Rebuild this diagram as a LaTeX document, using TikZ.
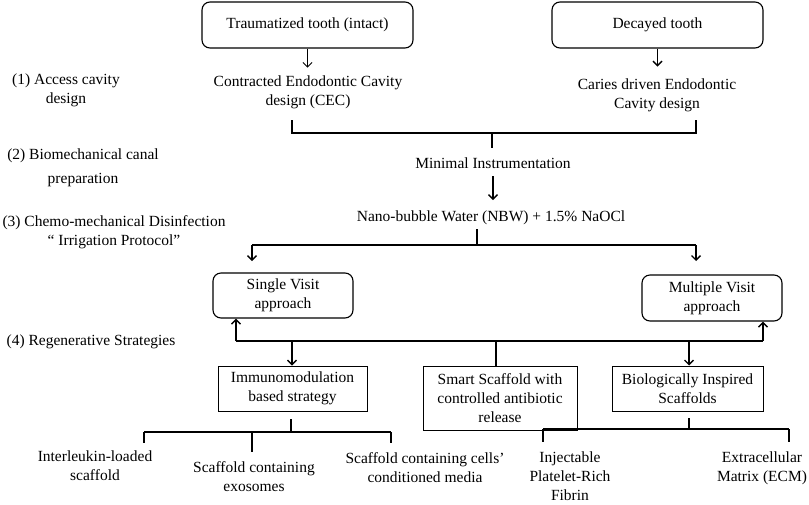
\documentclass[tikz,border=0pt]{standalone}
\usepackage{fontspec}
\setmainfont{Liberation Serif}
\usetikzlibrary{arrows.meta}
\begin{document}
\begin{tikzpicture}[x=1pt,y=-1pt,
  every node/.style={font=\fontsize{15.5}{19}\selectfont, align=center, inner sep=0pt},
  rbox/.style={draw, line width=1.1pt, rounded corners=8pt},
  sbox/.style={draw, line width=1pt},
  txt/.style={},
  conn/.style={line width=1.6pt},
  arr/.style={conn, -{Straight Barb[length=4.5pt,width=9pt,line width=1.4pt]}},
  thinarr/.style={line width=0.8pt, -{Straight Barb[length=4.5pt,width=9pt,line width=0.8pt]}}
]
\useasboundingbox (0,0) rectangle (809,504);
% boxes
\node[rbox, minimum width=211pt, minimum height=46pt] (trauma) at (307.5,25) {Traumatized tooth (intact)};
\node[rbox, minimum width=211pt, minimum height=46pt] (decay) at (657.5,25) {Decayed tooth};
\node[txt] (cec) at (308,92) {Contracted Endodontic Cavity\\design (CEC)};
\node[txt] (cdec) at (657,95.5) {Caries driven Endodontic\\Cavity design};
\node[txt] (mini) at (493,163) {Minimal Instrumentation};
\node[txt] (nbw) at (491,218) {Nano-bubble Water (NBW) + 1.5\% NaOCl};
\node[rbox, minimum width=140pt, minimum height=45pt] (single) at (283,295.5) {Single Visit\\approach};
\node[rbox, minimum width=140pt, minimum height=46pt] (multi) at (712,298) {Multiple Visit\\approach};
\node[sbox, minimum width=149pt, minimum height=45pt] (immuno) at (292.5,388.5) {Immunomodulation\\based strategy};
\node[sbox, minimum width=154pt, minimum height=64pt] (smart) at (500,398) {Smart Scaffold with\\controlled antibiotic\\release};
\node[sbox, minimum width=151pt, minimum height=45pt] (bio) at (687.5,388.5) {Biologically Inspired\\Scaffolds};
\node[txt] (il) at (95,465.5) {Interleukin-loaded\\scaffold};
\node[txt] (exo) at (254,476.5) {Scaffold containing\\exosomes};
\node[txt] (cond) at (425,467.5) {Scaffold containing cells'\\conditioned media};
\node[txt] (iprf) at (570,476.5) {Injectable\\Platelet-Rich\\Fibrin};
\node[txt] (ecm) at (762,468.5) {Extracellular\\Matrix (ECM)};
% left labels
\node[txt] (l1) at (66,90.5) {(1) Access cavity\\design};
\node[txt, font=\fontsize{15.5}{24}\selectfont] (l2) at (83,168) {(2) Biomechanical canal\\preparation};
\node[txt] (l3) at (114,232.5) {(3) Chemo-mechanical Disinfection\\`` Irrigation Protocol''};
\node[txt] (l4) at (91,342) {(4) Regenerative Strategies};
% junction coordinates
\coordinate (j1l) at (292,133);
\coordinate (j1r) at (696,133);
\coordinate (j1m) at (492,133);
\coordinate (j2m) at (477,245);
\coordinate (j2l) at (252,245);
\coordinate (j2r) at (696,245);
\coordinate (busl) at (236,341);
\coordinate (busr) at (763,341);
\coordinate (b1) at (292,341);
\coordinate (b2) at (496,341);
\coordinate (b3) at (689,341);
\coordinate (j3l) at (144,432);
\coordinate (j3m) at (291,432);
\coordinate (j3c) at (252,432);
\coordinate (j3r) at (391,432);
\coordinate (j4l) at (543,429);
\coordinate (j4m) at (689,429);
\coordinate (j4r) at (789,429);
% connectors
\draw[thinarr] (trauma.south) -- ++(0,19);
\draw[arr] (decay.south) -- ++(0,18);
\draw[conn] (292,120) -- (j1l) -- (j1r) -- (696,120);
\draw[conn] (j1m) -- (492,148);
\draw[arr] (493,176) -- (493,200);
\draw[conn] (477,229) -- (j2m);
\draw[conn] (j2l) -- (j2r);
\draw[arr] (j2l) -- (252,261);
\draw[arr] (j2r) -- (696,261);
\draw[conn] (busl) -- (busr);
\draw[arr] (busl) -- (busl |- single.south);
\draw[arr] (busr) -- (busr |- multi.south);
\draw[arr] (b1) -- (b1 |- immuno.north);
\draw[conn] (b2) -- (b2 |- smart.north);
\draw[arr] (b3) -- (b3 |- bio.north);
\draw[conn] (291,419) -- (j3m);
\draw[conn] (j3l) -- (j3r);
\draw[conn] (j3l) -- ++(0,11);
\draw[conn] (j3c) -- ++(0,20);
\draw[conn] (j3r) -- ++(0,11);
\draw[conn] (689,418) -- (j4m);
\draw[conn] (j4l) -- (j4r);
\draw[conn] (j4l) -- ++(0,13);
\draw[conn] (j4r) -- ++(0,13);
\end{tikzpicture}
\end{document}
